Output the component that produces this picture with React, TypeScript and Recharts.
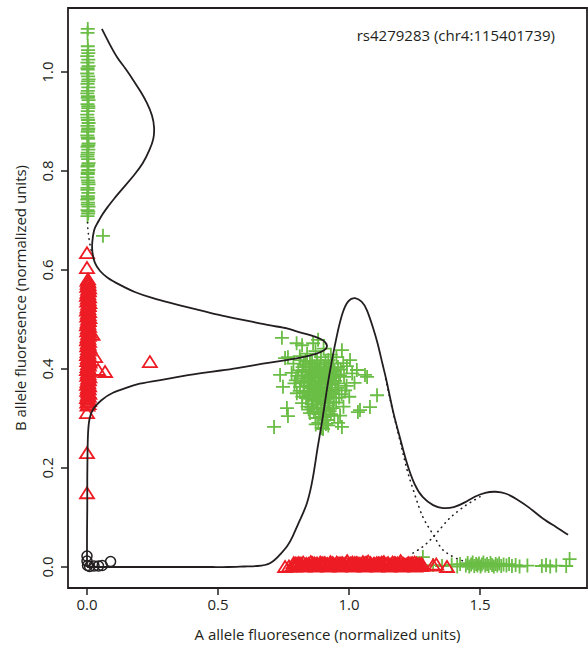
import React from "react";
import {
  ReferenceArea,
  Scatter,
  ScatterChart,
  XAxis,
  YAxis
} from "recharts";

type Pt = [number, number];

const xTicks = [0, 0.5, 1, 1.5];
const yTicks = [0, 0.2, 0.4, 0.6, 0.8, 1.0];
const xDomain = [-0.0725, 1.9084];
const yDomain = [-0.0424, 1.1293];

const snpTitle = "rs4279283 (chr4:115401739)";
const xTitle = "A allele fluoresence (normalized units)";
const yTitle = "B allele fluoresence (normalized units)";

// homozygous B: column along the y axis, plus one stray point
const bbColumn: Pt[] = [
  [0.003, 1.087], [0.002, 1.079], [0.004, 1.044], [0.001, 1.032], [0.005, 1.025],
  [0.002, 1.019], [0.006, 1.012], [0.003, 1.005], [0.001, 0.997], [0.004, 0.991],
  [0.006, 0.985], [0.002, 0.976], [0.005, 0.969], [0.003, 0.962], [0.001, 0.957],
  [0.004, 0.951], [0.006, 0.943], [0.002, 0.935], [0.005, 0.927], [0.003, 0.921],
  [0.001, 0.914], [0.004, 0.903], [0.006, 0.897], [0.002, 0.891], [0.005, 0.886],
  [0.003, 0.879], [0.001, 0.872], [0.004, 0.865], [0.006, 0.856], [0.002, 0.849],
  [0.005, 0.843], [0.003, 0.837], [0.001, 0.829], [0.004, 0.824], [0.006, 0.816],
  [0.002, 0.809], [0.005, 0.802], [0.003, 0.794], [0.001, 0.787], [0.004, 0.781],
  [0.006, 0.773], [0.002, 0.762], [0.005, 0.756], [0.003, 0.749], [0.001, 0.742],
  [0.004, 0.736], [0.006, 0.728], [0.002, 0.721], [0.004, 0.714], [0.003, 1.052],
  [0.005, 1.038], [0.002, 1.008], [0.004, 0.981], [0.003, 0.948], [0.005, 0.931],
  [0.002, 0.908], [0.004, 0.883], [0.003, 0.868], [0.005, 0.852], [0.002, 0.833],
  [0.004, 0.812], [0.003, 0.797], [0.005, 0.777], [0.002, 0.766], [0.004, 0.745],
  [0.003, 0.732], [0.005, 0.718], [0.002, 0.709], [0.061, 0.669]
];

// homozygous B cluster at A ~ 0.9
const bbCloud: Pt[] = [
  [0.744, 0.463], [0.800, 0.452], [0.821, 0.448], [0.863, 0.452], [0.882, 0.459],
  [0.756, 0.422], [0.767, 0.424], [0.737, 0.388], [0.748, 0.364], [0.763, 0.321],
  [0.767, 0.305], [0.714, 0.283], [0.901, 0.279], [0.958, 0.291], [0.966, 0.306],
  [1.069, 0.384], [1.107, 0.347], [1.080, 0.323], [1.042, 0.317], [0.973, 0.438],
  [1.004, 0.418], [1.030, 0.398], [1.061, 0.388], [1.034, 0.313], [0.973, 0.283],
  [0.840, 0.431], [0.872, 0.436], [0.903, 0.441], [0.931, 0.429], [0.952, 0.424],
  [0.812, 0.426], [0.893, 0.424], [0.921, 0.418], [0.788, 0.411], [0.823, 0.404],
  [0.851, 0.415], [0.879, 0.409], [0.912, 0.404], [0.941, 0.411], [0.969, 0.399],
  [0.992, 0.406], [0.861, 0.398], [0.834, 0.416], [0.781, 0.392], [0.803, 0.386],
  [0.822, 0.394], [0.843, 0.381], [0.864, 0.391], [0.882, 0.386], [0.904, 0.396],
  [0.921, 0.379], [0.951, 0.389], [0.981, 0.384], [1.012, 0.391], [0.872, 0.376],
  [0.792, 0.371], [0.813, 0.364], [0.831, 0.376], [0.852, 0.361], [0.871, 0.369],
  [0.893, 0.364], [0.911, 0.374], [0.932, 0.358], [0.961, 0.371], [0.991, 0.366],
  [1.021, 0.372], [0.801, 0.351], [0.822, 0.344], [0.843, 0.356], [0.861, 0.339],
  [0.882, 0.352], [0.902, 0.346], [0.923, 0.355], [0.942, 0.341], [0.972, 0.349],
  [1.001, 0.344], [0.821, 0.331], [0.842, 0.324], [0.862, 0.336], [0.881, 0.321],
  [0.903, 0.331], [0.922, 0.326], [0.951, 0.332], [0.979, 0.324], [0.851, 0.311],
  [0.872, 0.301], [0.891, 0.312], [0.913, 0.305], [0.931, 0.309], [0.883, 0.291],
  [0.904, 0.296], [0.921, 0.286], [0.857, 0.383], [0.897, 0.357], [0.887, 0.403],
  [0.917, 0.392], [0.866, 0.352], [0.936, 0.371], [0.848, 0.396], [0.908, 0.384],
  [0.815, 0.418], [0.828, 0.409], [0.836, 0.398], [0.845, 0.404], [0.853, 0.389],
  [0.859, 0.412], [0.868, 0.403], [0.874, 0.395], [0.878, 0.418], [0.885, 0.397],
  [0.892, 0.410], [0.897, 0.389], [0.905, 0.402], [0.910, 0.414], [0.915, 0.399],
  [0.924, 0.405], [0.928, 0.392], [0.936, 0.401], [0.944, 0.396], [0.958, 0.404],
  [0.818, 0.381], [0.826, 0.372], [0.834, 0.387], [0.841, 0.366], [0.848, 0.374],
  [0.855, 0.384], [0.862, 0.367], [0.868, 0.381], [0.876, 0.359], [0.884, 0.374],
  [0.889, 0.381], [0.896, 0.369], [0.903, 0.384], [0.909, 0.362], [0.916, 0.377],
  [0.925, 0.386], [0.929, 0.368], [0.939, 0.382], [0.947, 0.376], [0.955, 0.362],
  [0.812, 0.356], [0.829, 0.352], [0.836, 0.341], [0.847, 0.347], [0.853, 0.356],
  [0.858, 0.329], [0.866, 0.346], [0.874, 0.337], [0.878, 0.362], [0.887, 0.342],
  [0.893, 0.334], [0.899, 0.356], [0.907, 0.337], [0.913, 0.349], [0.918, 0.331],
  [0.927, 0.344], [0.934, 0.351], [0.941, 0.333], [0.949, 0.357], [0.962, 0.342],
  [0.846, 0.318], [0.857, 0.322], [0.866, 0.314], [0.876, 0.328], [0.884, 0.309],
  [0.894, 0.322], [0.899, 0.303], [0.908, 0.318], [0.917, 0.297], [0.926, 0.315],
  [0.938, 0.321], [0.944, 0.306], [0.873, 0.288], [0.912, 0.289], [0.896, 0.281],
  [0.807, 0.397], [0.797, 0.377], [0.985, 0.357], [0.966, 0.387], [0.978, 0.412]
];

// homozygous B at B ~ 0, A > 1.25
const bbRow: Pt[] = [
  [1.282, 0.020], [1.321, 0.004], [1.355, 0.002], [1.392, 0.005], [1.413, 0.001],
  [1.424, 0.006], [1.446, 0.003], [1.453, 0.008], [1.459, 0.001], [1.466, 0.005],
  [1.472, 0.009], [1.478, 0.002], [1.485, 0.006], [1.490, 0.003], [1.496, 0.007],
  [1.502, 0.001], [1.507, 0.005], [1.513, 0.009], [1.520, 0.003], [1.527, 0.006],
  [1.533, 0.002], [1.540, 0.008], [1.546, 0.004], [1.553, 0.001], [1.560, 0.006],
  [1.566, 0.003], [1.573, 0.007], [1.581, 0.002], [1.590, 0.005], [1.601, 0.003],
  [1.611, 0.006], [1.622, 0.002], [1.636, 0.004], [1.651, 0.001], [1.681, 0.003],
  [1.736, 0.002], [1.752, 0.004], [1.768, 0.001], [1.791, 0.003], [1.829, 0.002],
  [1.842, 0.016]
];

// heterozygous: column along the y axis
const abColumn: Pt[] = [
  [0.002, 0.326], [0.006, 0.329], [0.001, 0.332], [0.008, 0.335], [0.004, 0.338],
  [0.000, 0.341], [0.007, 0.344], [0.003, 0.347], [0.009, 0.350], [0.005, 0.353],
  [0.001, 0.356], [0.006, 0.359], [0.003, 0.362], [0.008, 0.365], [0.000, 0.368],
  [0.005, 0.371], [0.002, 0.374], [0.007, 0.377], [0.004, 0.380], [0.009, 0.383],
  [0.001, 0.386], [0.006, 0.389], [0.003, 0.392], [0.008, 0.395], [0.000, 0.398],
  [0.005, 0.401], [0.002, 0.404], [0.007, 0.407], [0.004, 0.410], [0.010, 0.413],
  [0.001, 0.416], [0.006, 0.419], [0.003, 0.422], [0.008, 0.425], [0.000, 0.428],
  [0.005, 0.431], [0.002, 0.434], [0.007, 0.437], [0.004, 0.440], [0.009, 0.443],
  [0.001, 0.446], [0.006, 0.449], [0.003, 0.452], [0.008, 0.455], [0.000, 0.458],
  [0.005, 0.461], [0.002, 0.464], [0.007, 0.467], [0.004, 0.470], [0.009, 0.473],
  [0.001, 0.476], [0.006, 0.479], [0.003, 0.482], [0.008, 0.485], [0.000, 0.488],
  [0.005, 0.491], [0.002, 0.494], [0.007, 0.497], [0.004, 0.500], [0.009, 0.503],
  [0.001, 0.506], [0.006, 0.509], [0.003, 0.512], [0.008, 0.515], [0.000, 0.518],
  [0.005, 0.521], [0.002, 0.524], [0.007, 0.527], [0.004, 0.530], [0.009, 0.533],
  [0.001, 0.536], [0.006, 0.539], [0.003, 0.542], [0.008, 0.545], [0.000, 0.548],
  [0.005, 0.551], [0.002, 0.554], [0.007, 0.557], [0.004, 0.560], [0.008, 0.563],
  [0.001, 0.566], [0.006, 0.569], [0.003, 0.572], [0.005, 0.575], [0.002, 0.578],
  [0.004, 0.581], [0.000, 0.634], [0.000, 0.604], [0.031, 0.424], [0.042, 0.398],
  [0.069, 0.394], [0.240, 0.414], [0.021, 0.469], [0.000, 0.311], [0.000, 0.230],
  [0.000, 0.149]
];

// heterozygous at B ~ 0
const abRow: Pt[] = [
  [0.756, 0.000], [0.771, 0.001], [0.786, 0.003], [0.789, 0.008], [0.794, 0.001],
  [0.797, 0.007], [0.801, 0.005], [0.806, 0.008], [0.809, 0.002], [0.813, 0.007],
  [0.818, 0.006], [0.821, 0.004], [0.825, 0.009], [0.830, 0.001], [0.833, 0.004],
  [0.837, 0.006], [0.842, 0.003], [0.845, 0.006], [0.849, 0.005], [0.854, 0.010],
  [0.857, 0.002], [0.861, 0.008], [0.866, 0.004], [0.869, 0.007], [0.873, 0.001],
  [0.878, 0.007], [0.881, 0.004], [0.885, 0.003], [0.890, 0.009], [0.893, 0.005],
  [0.897, 0.008], [0.902, 0.002], [0.905, 0.008], [0.909, 0.007], [0.914, 0.004],
  [0.917, 0.006], [0.921, 0.001], [0.926, 0.006], [0.929, 0.010], [0.933, 0.003],
  [0.938, 0.008], [0.941, 0.005], [0.945, 0.004], [0.950, 0.002], [0.953, 0.009],
  [0.957, 0.006], [0.962, 0.007], [0.965, 0.001], [0.969, 0.007], [0.974, 0.008],
  [0.977, 0.004], [0.981, 0.006], [0.986, 0.003], [0.989, 0.008], [0.993, 0.012],
  [0.998, 0.005], [1.001, 0.002], [1.005, 0.007], [1.010, 0.006], [1.013, 0.009],
  [1.017, 0.001], [1.022, 0.008], [1.025, 0.004], [1.029, 0.008], [1.034, 0.007],
  [1.037, 0.002], [1.041, 0.006], [1.046, 0.006], [1.049, 0.003], [1.053, 0.010],
  [1.058, 0.007], [1.061, 0.001], [1.065, 0.009], [1.070, 0.005], [1.073, 0.011],
  [1.077, 0.003], [1.082, 0.008], [1.085, 0.004], [1.089, 0.002], [1.094, 0.006],
  [1.097, 0.006], [1.101, 0.004], [1.106, 0.008], [1.109, 0.001], [1.113, 0.007],
  [1.118, 0.007], [1.121, 0.005], [1.125, 0.009], [1.130, 0.002], [1.133, 0.010],
  [1.137, 0.006], [1.142, 0.003], [1.145, 0.006], [1.149, 0.008], [1.154, 0.001],
  [1.157, 0.004], [1.161, 0.005], [1.166, 0.009], [1.169, 0.003], [1.173, 0.008],
  [1.178, 0.007], [1.181, 0.002], [1.185, 0.007], [1.190, 0.004], [1.193, 0.008],
  [1.197, 0.012], [1.202, 0.001], [1.205, 0.006], [1.209, 0.006], [1.214, 0.003],
  [1.217, 0.004], [1.221, 0.005], [1.226, 0.008], [1.229, 0.002], [1.233, 0.007],
  [1.238, 0.006], [1.241, 0.008], [1.245, 0.003], [1.250, 0.009], [1.253, 0.001],
  [1.257, 0.007], [1.262, 0.004], [1.265, 0.004], [1.269, 0.006], [1.274, 0.002],
  [1.277, 0.006], [1.281, 0.003], [1.321, 0.003], [1.333, 0.005], [1.374, 0.000]
];

// no calls near the origin
const noCalls: Pt[] = [
  [0.000, 0.022], [0.000, 0.012], [0.002, 0.003], [0.010, 0.001],
  [0.027, 0.002], [0.044, 0.002], [0.058, 0.003], [0.090, 0.011]
];

// density of B intensity, drawn sideways (x = density), bottom to top
const bDensity: Pt[] = [
  [0.000, 0.000], [0.000, 0.060], [0.001, 0.120], [0.001, 0.180], [0.002, 0.230],
  [0.004, 0.270], [0.010, 0.300], [0.025, 0.320], [0.055, 0.337], [0.099, 0.352],
  [0.150, 0.362], [0.191, 0.369], [0.250, 0.375], [0.317, 0.381], [0.380, 0.387],
  [0.443, 0.392], [0.510, 0.397], [0.573, 0.402], [0.640, 0.408], [0.698, 0.413],
  [0.760, 0.418], [0.824, 0.424], [0.870, 0.430], [0.905, 0.438], [0.916, 0.447],
  [0.900, 0.458], [0.855, 0.468], [0.800, 0.476], [0.763, 0.482], [0.700, 0.488],
  [0.634, 0.495], [0.570, 0.502], [0.508, 0.509], [0.445, 0.517], [0.382, 0.525],
  [0.315, 0.534], [0.252, 0.543], [0.185, 0.555], [0.126, 0.570], [0.080, 0.584],
  [0.050, 0.598], [0.030, 0.615], [0.021, 0.635], [0.020, 0.655], [0.027, 0.680],
  [0.040, 0.695], [0.060, 0.713], [0.080, 0.728], [0.105, 0.745], [0.145, 0.770],
  [0.180, 0.792], [0.212, 0.815], [0.238, 0.842], [0.253, 0.865], [0.256, 0.888],
  [0.248, 0.912], [0.229, 0.937], [0.205, 0.960], [0.176, 0.984], [0.145, 1.008],
  [0.115, 1.030], [0.085, 1.058], [0.057, 1.087]
];
const bDensityGap: Pt[] = [
  [0.016, 0.640], [0.010, 0.655], [0.006, 0.670], [0.003, 0.685], [0.002, 0.700]
];

// density of A intensity (y = density)
const aDensity: Pt[] = [
  [0.000, 0.000], [0.060, 0.000], [0.120, 0.000], [0.180, 0.000], [0.240, 0.000],
  [0.300, 0.000], [0.360, 0.000], [0.420, 0.000], [0.480, 0.000], [0.540, 0.000],
  [0.600, 0.001], [0.650, 0.002], [0.700, 0.008], [0.740, 0.027], [0.765, 0.043],
  [0.786, 0.063], [0.813, 0.095], [0.840, 0.130], [0.862, 0.180], [0.880, 0.240],
  [0.899, 0.300], [0.916, 0.360], [0.935, 0.418], [0.954, 0.468], [0.975, 0.512],
  [0.998, 0.537], [1.023, 0.543], [1.048, 0.536], [1.069, 0.518], [1.092, 0.483],
  [1.110, 0.450], [1.128, 0.410], [1.145, 0.372], [1.168, 0.315], [1.195, 0.260],
  [1.221, 0.210], [1.250, 0.168], [1.282, 0.141], [1.321, 0.125], [1.359, 0.119],
  [1.400, 0.121], [1.440, 0.130], [1.480, 0.142], [1.520, 0.150], [1.560, 0.152],
  [1.600, 0.148], [1.640, 0.137], [1.690, 0.119], [1.740, 0.098], [1.790, 0.081],
  [1.836, 0.065]
];
const aComponent1: Pt[] = [
  [1.140, 0.380], [1.165, 0.320], [1.190, 0.265], [1.206, 0.230], [1.225, 0.190],
  [1.252, 0.145], [1.282, 0.101], [1.317, 0.069], [1.347, 0.042], [1.374, 0.028],
  [1.412, 0.017], [1.450, 0.010]
];
const aComponent2: Pt[] = [
  [1.244, 0.028], [1.279, 0.040], [1.309, 0.054], [1.340, 0.072], [1.374, 0.093],
  [1.400, 0.106], [1.431, 0.119], [1.462, 0.130], [1.500, 0.142]
];

const INK = "#231f20";
const GREEN = "#6abd45";
const RED = "#ed1c24";
const FONT = "'Open Sans', 'Liberation Sans', sans-serif";
const FS = 15;

const toXY = (pts: Pt[]) => pts.map(([x, y]) => ({ x, y }));

const Plus = (props: any) => {
  const { cx, cy } = props;
  return (
    <path
      d={`M${cx - 7},${cy}H${cx + 7}M${cx},${cy - 7}V${cy + 7}`}
      stroke={GREEN}
      strokeWidth={1.8}
      fill="none"
    />
  );
};

const Triangle = (props: any) => {
  const { cx, cy } = props;
  return (
    <path
      d={`M${cx},${cy - 6}L${cx + 7},${cy + 5}L${cx - 7},${cy + 5}Z`}
      stroke={RED}
      strokeWidth={1.8}
      fill="none"
    />
  );
};

const Ring = (props: any) => {
  const { cx, cy } = props;
  return <circle cx={cx} cy={cy} r={5} stroke={INK} strokeWidth={1.5} fill="none" />;
};

const NoMark = () => <g />;

const YTick = (props: any) => {
  const { x, y, payload } = props;
  const tx = x - 12;
  return (
    <text
      x={tx}
      y={y}
      transform={`rotate(-90, ${tx}, ${y})`}
      textAnchor="middle"
      dominantBaseline="central"
      fill={INK}
      fontSize={FS}
      fontFamily={FONT}
    >
      {Number(payload.value).toFixed(1)}
    </text>
  );
};

const YTitle = (props: any) => {
  const { viewBox } = props;
  const tx = viewBox.x + 20;
  const ty = viewBox.y + viewBox.height / 2;
  return (
    <text
      x={tx}
      y={ty}
      transform={`rotate(-90, ${tx}, ${ty})`}
      textAnchor="middle"
      dominantBaseline="central"
      fill={INK}
      fontSize={FS}
      fontFamily={FONT}
    >
      {yTitle}
    </text>
  );
};

const XTitle = (props: any) => {
  const { viewBox } = props;
  return (
    <text
      x={viewBox.x + viewBox.width / 2}
      y={viewBox.y + 46}
      textAnchor="middle"
      dominantBaseline="central"
      fill={INK}
      fontSize={FS}
      fontFamily={FONT}
    >
      {xTitle}
    </text>
  );
};

const BoxTitle = (props: any) => {
  const { viewBox } = props;
  return (
    <text
      x={viewBox.x + viewBox.width - 32}
      y={viewBox.y + 27}
      textAnchor="end"
      dominantBaseline="central"
      fill={INK}
      fontSize={FS}
      fontFamily={FONT}
    >
      {snpTitle}
    </text>
  );
};

const solid = { stroke: INK, strokeWidth: 1.8, fill: "none" };
const dotted = {
  stroke: INK,
  strokeWidth: 1.6,
  strokeDasharray: "0.5 5",
  strokeLinecap: "round",
  fill: "none"
};

export default function App() {
  return (
    <div style={{ position: "absolute", left: 0, top: 0, width: 588, height: 648, background: "#fff" }}>
      <ScatterChart width={588} height={648} margin={{ top: 8, right: 1, bottom: 0, left: 0 }}>
        <XAxis
          type="number"
          dataKey="x"
          domain={xDomain}
          allowDataOverflow
          ticks={xTicks}
          tickFormatter={(v: number) => v.toFixed(1)}
          axisLine={false}
          tickLine={{ stroke: INK, strokeWidth: 1.5 }}
          tickSize={7}
          tickMargin={4}
          height={60}
          tick={{ fill: INK, fontSize: FS, fontFamily: FONT }}
          label={<XTitle />}
        />
        <YAxis
          type="number"
          dataKey="y"
          domain={yDomain}
          allowDataOverflow
          ticks={yTicks}
          axisLine={false}
          tickLine={{ stroke: INK, strokeWidth: 1.5 }}
          tickSize={7}
          tickMargin={2}
          width={68}
          tick={<YTick />}
          label={<YTitle />}
        />
        <ReferenceArea
          x1={xDomain[0]}
          x2={xDomain[1]}
          y1={yDomain[0]}
          y2={yDomain[1]}
          fill="none"
          stroke={INK}
          strokeWidth={1.8}
          label={<BoxTitle />}
        />
        <Scatter data={toXY(noCalls)} shape={Ring} isAnimationActive={false} />
        <Scatter data={toXY(bbColumn)} shape={Plus} isAnimationActive={false} />
        <Scatter data={toXY(bbCloud)} shape={Plus} isAnimationActive={false} />
        <Scatter data={toXY(bbRow)} shape={Plus} isAnimationActive={false} />
        <Scatter data={toXY(abColumn)} shape={Triangle} isAnimationActive={false} />
        <Scatter data={toXY(abRow)} shape={Triangle} isAnimationActive={false} />
        <Scatter
          data={toXY(bDensity)}
          shape={NoMark}
          line={solid}
          lineJointType="natural"
          isAnimationActive={false}
        />
        <Scatter
          data={toXY(bDensityGap)}
          shape={NoMark}
          line={dotted}
          isAnimationActive={false}
        />
        <Scatter
          data={toXY(aDensity)}
          shape={NoMark}
          line={solid}
          lineJointType="natural"
          isAnimationActive={false}
        />
        <Scatter
          data={toXY(aComponent1)}
          shape={NoMark}
          line={dotted}
          lineJointType="natural"
          isAnimationActive={false}
        />
        <Scatter
          data={toXY(aComponent2)}
          shape={NoMark}
          line={dotted}
          lineJointType="natural"
          isAnimationActive={false}
        />
      </ScatterChart>
    </div>
  );
}
